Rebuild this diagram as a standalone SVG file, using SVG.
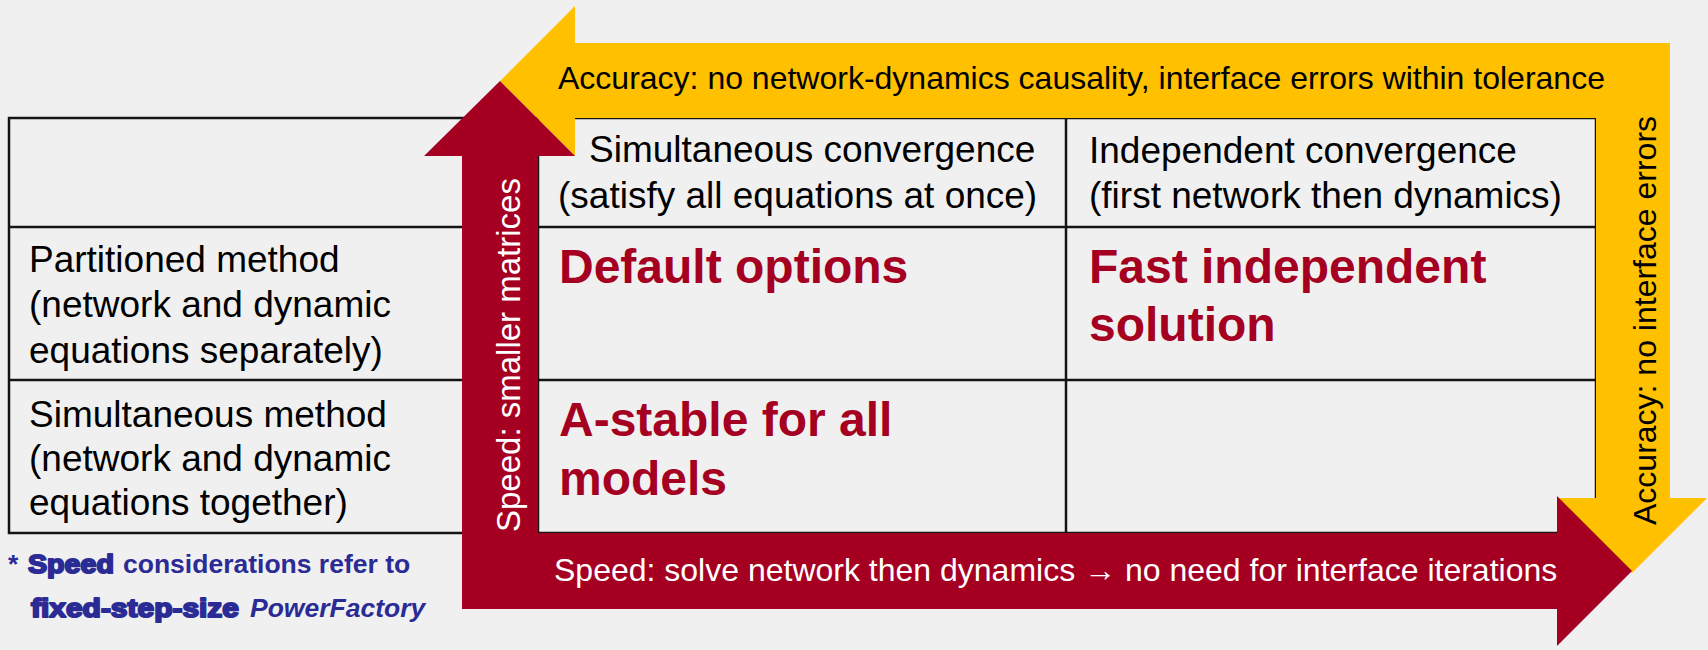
<svg xmlns="http://www.w3.org/2000/svg" width="1708" height="650" viewBox="0 0 1708 650">
<style>
.bg{fill:#f0f0f0}
.grid{stroke:#141414;stroke-width:2.5;fill:none}
.t{font-family:"Liberation Sans",Arial,sans-serif;font-size:37px;fill:#000}
.b{font-family:"Liberation Sans",Arial,sans-serif;font-size:48px;font-weight:bold;fill:#a50021}
.lbl{font-family:"Liberation Sans",Arial,sans-serif;font-size:32px}
.w{fill:#fff}
.k{fill:#000}
.yellow{fill:#ffc000}
.red{fill:#a50021}
.fn{font-family:"Liberation Sans",Arial,sans-serif;font-size:26.5px;font-weight:bold;fill:#2b2b96}
.heavy{stroke:#2b2b96;stroke-width:2;stroke-linejoin:round}
.it{font-style:italic}
</style>
<rect class="bg" x="0" y="0" width="1708" height="650"/>

<g id="table-grid">
  <rect class="grid" x="9" y="118" width="1587" height="415"/>
  <line class="grid" x1="9" y1="227" x2="1596" y2="227"/>
  <line class="grid" x1="9" y1="380" x2="1596" y2="380"/>
  <line class="grid" x1="538" y1="118" x2="538" y2="533"/>
  <line class="grid" x1="1066" y1="118" x2="1066" y2="533"/>
</g>

<g id="header-simultaneous">
  <text class="t" x="589" y="162">Simultaneous convergence</text>
  <text class="t" x="558" y="208">(satisfy all equations at once)</text>
</g>
<g id="header-independent">
  <text class="t" x="1089" y="163">Independent convergence</text>
  <text class="t" x="1089" y="208">(first network then dynamics)</text>
</g>
<g id="row-partitioned">
  <text class="t" x="29" y="272">Partitioned method</text>
  <text class="t" x="29" y="317">(network and dynamic</text>
  <text class="t" x="29" y="363">equations separately)</text>
</g>
<g id="row-simultaneous">
  <text class="t" x="29" y="427">Simultaneous method</text>
  <text class="t" x="29" y="471">(network and dynamic</text>
  <text class="t" x="29" y="515">equations together)</text>
</g>
<g id="cell-default">
  <text class="b" x="559" y="283">Default options</text>
</g>
<g id="cell-fast">
  <text class="b" x="1089" y="283">Fast independent</text>
  <text class="b" x="1089" y="341">solution</text>
</g>
<g id="cell-astable">
  <text class="b" x="559" y="436">A-stable for all</text>
  <text class="b" x="559" y="495">models</text>
</g>

<g id="connectors">
  <g id="arrow-accuracy">
    <polygon class="yellow" points="500,81 575,6 575,43 1670,43 1670,498 1707,498 1632,573 1557,498 1596,498 1596,118 575,118 575,156"/>
    <text class="lbl k" x="558" y="89">Accuracy: no network-dynamics causality, interface errors within tolerance</text>
    <text class="lbl k" transform="translate(1656,525) rotate(-90)">Accuracy: no interface errors</text>
  </g>
  <g id="arrow-speed">
    <polygon class="red" points="500,81 575,156 538,156 538,533 1557,533 1557,496 1632,571 1557,646 1557,609 462,609 462,156 424,156"/>
    <text class="lbl w" transform="translate(520,532) rotate(-90)" style="font-size:33px">Speed: smaller matrices</text>
    <text class="lbl w" x="554" y="581">Speed: solve network then dynamics → no need for interface iterations</text>
  </g>
</g>

<g id="footnote">
  <text class="fn" x="8" y="573">*</text>
  <text class="fn heavy" x="28" y="573" textLength="86" lengthAdjust="spacingAndGlyphs">Speed</text>
  <text class="fn" x="123" y="573">considerations refer to</text>
  <text class="fn heavy" x="31" y="617" textLength="208" lengthAdjust="spacingAndGlyphs">fixed-step-size</text>
  <text class="fn it" x="250" y="617">PowerFactory</text>
</g>
</svg>
